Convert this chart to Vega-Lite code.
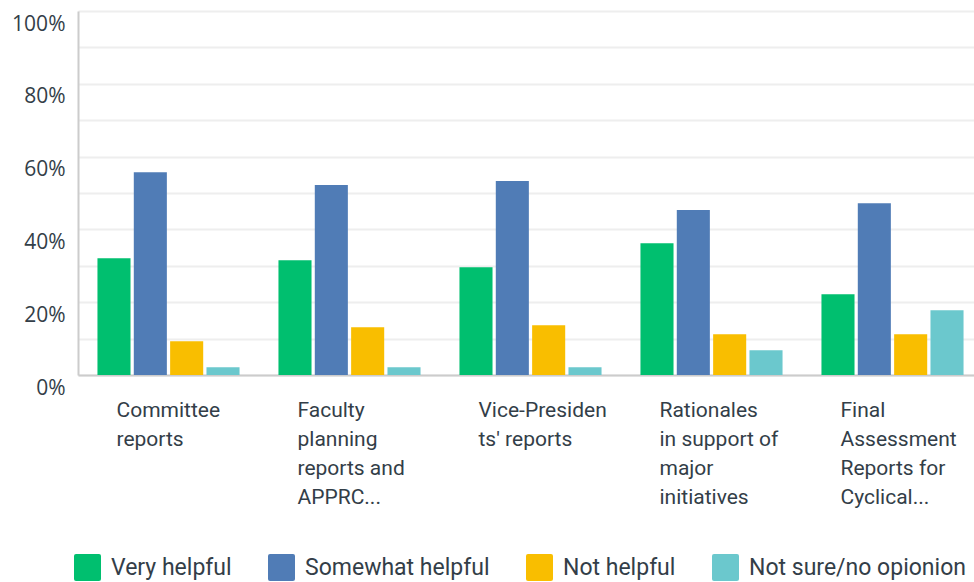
{
  "$schema": "https://vega.github.io/schema/vega-lite/v6.json",
  "autosize": {"type": "none"},
  "padding": {"left": 78, "top": 11, "right": 0, "bottom": 207},
  "width": 905,
  "height": 364,
  "background": "white",
  "data": {
    "values": [
      {"item": "Committee|reports", "answer": "Very helpful", "pct": 32.1},
      {"item": "Committee|reports", "answer": "Somewhat helpful", "pct": 55.7},
      {"item": "Committee|reports", "answer": "Not helpful", "pct": 9.3},
      {"item": "Committee|reports", "answer": "Not sure/no opionion", "pct": 2.1},
      {"item": "Faculty|planning|reports and|APPRC...", "answer": "Very helpful", "pct": 31.5},
      {"item": "Faculty|planning|reports and|APPRC...", "answer": "Somewhat helpful", "pct": 52.2},
      {"item": "Faculty|planning|reports and|APPRC...", "answer": "Not helpful", "pct": 13.1},
      {"item": "Faculty|planning|reports and|APPRC...", "answer": "Not sure/no opionion", "pct": 2.1},
      {"item": "Vice-Presiden|ts' reports", "answer": "Very helpful", "pct": 29.6},
      {"item": "Vice-Presiden|ts' reports", "answer": "Somewhat helpful", "pct": 53.3},
      {"item": "Vice-Presiden|ts' reports", "answer": "Not helpful", "pct": 13.7},
      {"item": "Vice-Presiden|ts' reports", "answer": "Not sure/no opionion", "pct": 2.1},
      {"item": "Rationales|in support of|major|initiatives", "answer": "Very helpful", "pct": 36.2},
      {"item": "Rationales|in support of|major|initiatives", "answer": "Somewhat helpful", "pct": 45.3},
      {"item": "Rationales|in support of|major|initiatives", "answer": "Not helpful", "pct": 11.2},
      {"item": "Rationales|in support of|major|initiatives", "answer": "Not sure/no opionion", "pct": 6.8},
      {"item": "Final|Assessment|Reports for|Cyclical...", "answer": "Very helpful", "pct": 22.2},
      {"item": "Final|Assessment|Reports for|Cyclical...", "answer": "Somewhat helpful", "pct": 47.2},
      {"item": "Final|Assessment|Reports for|Cyclical...", "answer": "Not helpful", "pct": 11.2},
      {"item": "Final|Assessment|Reports for|Cyclical...", "answer": "Not sure/no opionion", "pct": 17.8}
    ]
  },
  "mark": {"type": "bar"},
  "encoding": {
    "x": {
      "field": "item",
      "type": "nominal",
      "sort": null,
      "scale": {"paddingInner": 0.215, "paddingOuter": 0.1075},
      "axis": {
        "title": null,
        "labelAngle": 0,
        "labelAlign": "left",
        "labelBaseline": "top",
        "labelOffset": -52,
        "labelPadding": 24,
        "labelExpr": "split(datum.label, '|')",
        "labelLineHeight": 29,
        "labelFont": "Roboto",
        "labelFontSize": 21,
        "labelColor": "#333e48",
        "labelLimit": 200,
        "ticks": false,
        "domainColor": "#cccccc",
        "domainWidth": 2,
        "grid": false
      }
    },
    "xOffset": {
      "field": "answer",
      "type": "nominal",
      "sort": ["Very helpful", "Somewhat helpful", "Not helpful", "Not sure/no opionion"],
      "scale": {"paddingInner": 0.09, "paddingOuter": 0}
    },
    "y": {
      "field": "pct",
      "type": "quantitative",
      "scale": {"domain": [0, 100], "nice": false},
      "axis": {
        "title": null,
        "values": [0, 10, 20, 30, 40, 50, 60, 70, 80, 90, 100],
        "labelExpr": "datum.value % 20 == 0 ? datum.value + '%' : ''",
        "labelFont": "Open Sans",
        "labelFontSize": 21,
        "labelColor": "#333e48",
        "labelOffset": 13,
        "labelPadding": 13,
        "labelOverlap": false,
        "ticks": false,
        "domainColor": "#cccccc",
        "domainWidth": 2,
        "gridColor": "#eeeeee",
        "gridWidth": 2
      }
    },
    "color": {
      "field": "answer",
      "type": "nominal",
      "sort": ["Very helpful", "Somewhat helpful", "Not helpful", "Not sure/no opionion"],
      "scale": {
        "domain": ["Very helpful", "Somewhat helpful", "Not helpful", "Not sure/no opionion"],
        "range": ["#00bf6f", "#507cb6", "#f9be00", "#6bc8cd"]
      },
      "legend": {
        "title": null,
        "orient": "none",
        "direction": "horizontal",
        "legendX": -4,
        "legendY": 543,
        "symbolType": "M-0.85,-1L0.85,-1Q1,-1 1,-0.85L1,0.85Q1,1 0.85,1L-0.85,1Q-1,1 -1,0.85L-1,-0.85Q-1,-1 -0.85,-1Z",
        "symbolSize": 729,
        "symbolStrokeWidth": 0,
        "symbolOpacity": 1,
        "labelFont": "Roboto",
        "labelFontSize": 23,
        "labelColor": "#333e48",
        "labelOffset": 10,
        "columnPadding": 36,
        "labelLimit": 300
      }
    }
  },
  "config": {"view": {"stroke": null}}
}
